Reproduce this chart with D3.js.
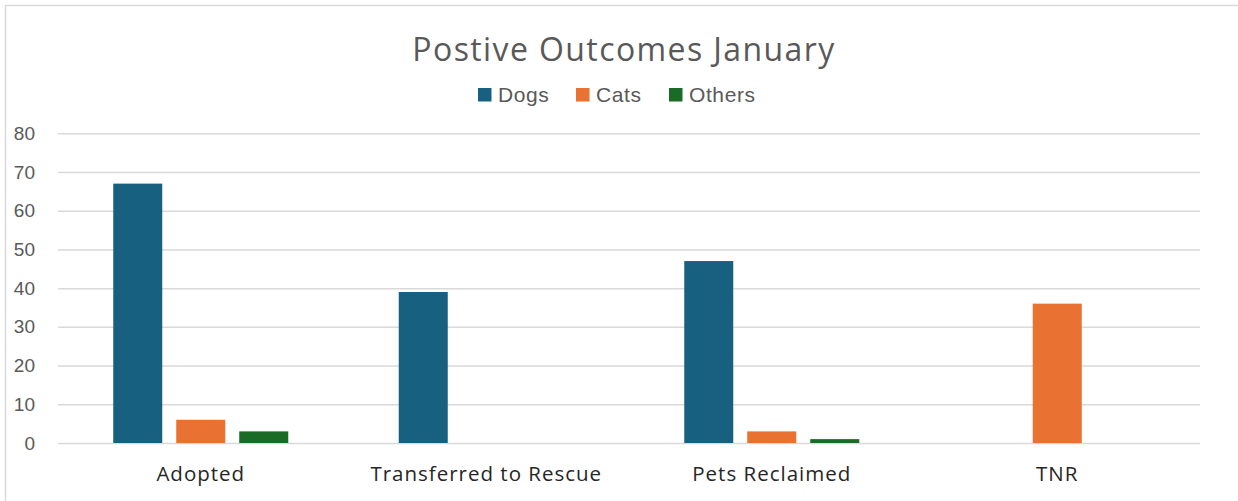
<!DOCTYPE html>
<html><head><meta charset="utf-8">
<script src="https://cdn.jsdelivr.net/npm/d3@7"></script>
<style>body{margin:0;background:#fff;}svg{display:block;}</style>
</head><body>
<script>
const categories = ["Adopted", "Transferred to Rescue", "Pets Reclaimed", "TNR"];
const seriesNames = ["Dogs", "Cats", "Others"];
const dogs = [67, 39, 47, 0];
const cats = [6, 0, 3, 36];
const others = [3, 0, 1, 0];
const yTicks = [0, 10, 20, 30, 40, 50, 60, 70, 80];
const colors = ["#18607f", "#e97132", "#1a6b26"];
const seriesValues = [dogs, cats, others];

(function () {
const W = 1238, H = 501;
const font = "Liberation Sans, Arial, sans-serif";
const font2 = "'Open Sans', sans-serif";
const svg = d3.select("body").append("svg").attr("width", W).attr("height", H);
svg.append("rect").attr("x", 5.5).attr("y", 5.5).attr("width", W + 10).attr("height", H + 10)
  .attr("fill", "#fff").attr("stroke", "#d9d9d9").attr("stroke-width", 1.5);

const mL = 58, mR = 1200, mT = 133.3, mB = 443;
const x0 = d3.scaleBand().domain(categories).range([mL, mR]).paddingInner(0).paddingOuter(0);
const x1 = d3.scaleBand().domain(seriesNames).range([0, x0.bandwidth()]).paddingInner(0.222).paddingOuter(0.877);
const y = d3.scaleLinear().domain([0, 80]).range([mB, mT]);

const yAxis = d3.axisLeft(y).tickValues(yTicks).tickSize(-(mR - mL)).tickFormat(d3.format("d")).tickPadding(23);
const gy = svg.append("g").attr("transform", `translate(${mL},0)`).call(yAxis);
gy.select(".domain").remove();
gy.selectAll(".tick line").attr("stroke", "#d9d9d9").attr("stroke-width", 1.5);
gy.selectAll(".tick text").attr("fill", "#595959").style("font-family", font).style("font-size", "19px");

const groups = svg.append("g").selectAll("g").data(categories).join("g")
  .attr("transform", d => `translate(${x0(d)},0)`);
groups.selectAll("rect").data((c, i) => seriesNames.map((s, j) => ({s, v: seriesValues[j][i], j})))
  .join("rect")
  .attr("x", d => x1(d.s)).attr("width", x1.bandwidth())
  .attr("y", d => y(d.v)).attr("height", d => y(0) - y(d.v))
  .attr("fill", d => colors[d.j]);

const xAxis = d3.axisBottom(x0).tickSize(0).tickPadding(23);
const gx = svg.append("g").attr("transform", `translate(0,${mB})`).call(xAxis);
gx.select(".domain").remove();
gx.selectAll(".tick text").attr("fill", "#262626").style("font-family", font2).style("font-size", "20.5px")
  .style("letter-spacing", "1px");

svg.append("text").attr("x", 624).attr("y", 61).attr("text-anchor", "middle")
  .attr("fill", "#595959").style("font-family", font2).style("font-size", "32px")
  .style("letter-spacing", "1.4px")
  .text("Postive Outcomes January");

const legX = [478, 576, 669];
const leg = svg.append("g").selectAll("g").data(seriesNames).join("g")
  .attr("transform", (d, i) => `translate(${legX[i]},88)`);
leg.append("rect").attr("width", 13.5).attr("height", 13.5).attr("fill", (d, i) => colors[i]);
leg.append("text").attr("x", 20).attr("y", 13.5).attr("fill", "#595959")
  .style("font-family", font).style("font-size", "21px").style("letter-spacing", "0.6px").text(d => d);
})();
</script>
</body></html>
